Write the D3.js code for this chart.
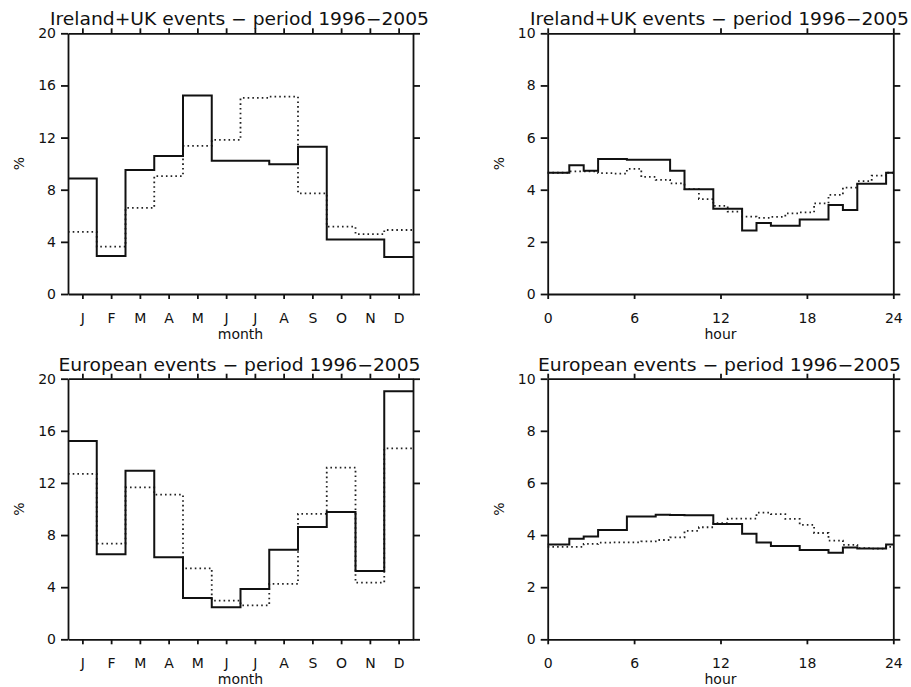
<!DOCTYPE html>
<html>
<head>
    <title>Ireland+UK and European events 1996-2005</title>
    <script src="https://d3js.org/d3.v7.min.js"></script>
    <style>
        body { margin: 0; background: #fff; }
        text { font-family: "DejaVu Sans", sans-serif; fill: #111; }
        .axis path, .axis line { stroke: #111; stroke-width: 1.8px; }
        .axis text { font-size: 14px; }
        .solid { fill: none; stroke: #111; stroke-width: 2px; }
        .dotted { fill: none; stroke: #222; stroke-width: 1.8px; stroke-dasharray: 1.6, 3.1; }
    </style>
</head>
<body>
<div id="svg_container"></div>
<script>
    const width = 911;
    const height = 687;

    // categories / ticks
    const months = ["J", "F", "M", "A", "M", "J", "J", "A", "S", "O", "N", "D"];
    const hours = [0, 1, 2, 3, 4, 5, 6, 7, 8, 9, 10, 11, 12, 13, 14, 15, 16, 17, 18, 19, 20, 21, 22, 23, 24];
    const monthTicksY = [0, 4, 8, 12, 16, 20];
    const hourTicksY = [0, 2, 4, 6, 8, 10];
    const hourTicksX = [0, 6, 12, 18, 24];

    const titleIreland = "Ireland+UK events \u2212 period 1996\u22122005";
    const titleEurope = "European events \u2212 period 1996\u22122005";

    // monthly distribution (%)
    const irelandMonthSolid = [8.87, 2.92, 9.51, 10.59, 15.22, 10.23, 10.23, 9.95, 11.30, 4.19, 4.19, 2.84];
    const irelandMonthDotted = [4.76, 3.63, 6.60, 9.05, 11.36, 11.82, 15.04, 15.14, 7.72, 5.17, 4.60, 4.91];
    const europeMonthSolid = [15.22, 6.52, 12.94, 6.29, 3.17, 2.46, 3.86, 6.88, 8.62, 9.77, 5.24, 19.03];
    const europeMonthDotted = [12.69, 7.34, 11.66, 11.10, 5.45, 2.97, 2.61, 4.25, 9.62, 13.17, 4.35, 14.65];

    // hourly distribution (%), hour 24 = hour 0
    const irelandHourSolid = [4.65, 4.65, 4.94, 4.73, 5.18, 5.18, 5.15, 5.15, 5.15, 4.73, 4.02, 4.02, 3.27, 3.27, 2.44, 2.72, 2.62, 2.62, 2.86, 2.86, 3.41, 3.22, 4.23, 4.23, 4.65];
    const irelandHourDotted = [4.65, 4.65, 4.70, 4.70, 4.64, 4.62, 4.80, 4.49, 4.38, 4.24, 4.02, 3.64, 3.38, 3.16, 2.97, 2.92, 2.96, 3.09, 3.13, 3.48, 3.80, 4.08, 4.33, 4.54, 4.65];
    const europeHourSolid = [3.64, 3.64, 3.86, 3.94, 4.19, 4.19, 4.71, 4.71, 4.78, 4.77, 4.76, 4.76, 4.42, 4.42, 4.05, 3.71, 3.58, 3.58, 3.43, 3.43, 3.32, 3.52, 3.48, 3.48, 3.64];
    const europeHourDotted = [3.55, 3.55, 3.55, 3.66, 3.71, 3.72, 3.72, 3.76, 3.81, 3.91, 4.16, 4.30, 4.46, 4.63, 4.63, 4.86, 4.80, 4.62, 4.39, 4.08, 3.79, 3.62, 3.50, 3.48, 3.55];

    const svg = d3.select("#svg_container")
        .append("svg")
        .attr("width", width)
        .attr("height", height);

    svg.append("rect").attr("width", width).attr("height", height).attr("fill", "#fff");

    const col_left = [68, 547.7];
    const col_right = [413, 893.3];
    const row_top = [33.3, 378.7];
    const row_bottom = [294, 639.3];

    function draw_panel(col, row, kind, title, titleLen, solid, dotted) {
        const x0 = col_left[col], x1 = col_right[col];
        const y0 = row_top[row], y1 = row_bottom[row];
        const g = svg.append("g");

        let x, y, xTicks, xFmt, yTicks, pts_s, pts_d, curve, xTitle;
        if (kind === "month") {
            x = d3.scaleLinear().domain([0, 12]).range([x0, x1]);
            y = d3.scaleLinear().domain([0, 20]).range([y1, y0]);
            xTicks = months.map((m, i) => i + 0.5);
            xFmt = (d, i) => months[i];
            yTicks = monthTicksY;
            // histogram edges: each month spans [i, i+1]
            pts_s = solid.map((v, i) => [i, v]).concat([[12, solid[11]]]);
            pts_d = dotted.map((v, i) => [i, v]).concat([[12, dotted[11]]]);
            curve = d3.curveStepAfter;
            xTitle = "month";
        } else {
            x = d3.scaleLinear().domain([0, 24]).range([x0, x1]);
            y = d3.scaleLinear().domain([0, 10]).range([y1, y0]);
            xTicks = hourTicksX;
            xFmt = d3.format("d");
            yTicks = hourTicksY;
            pts_s = hours.map((h, i) => [h, solid[i]]);
            pts_d = hours.map((h, i) => [h, dotted[i]]);
            curve = d3.curveStep;
            xTitle = "hour";
        }

        const line = d3.line().x(d => x(d[0])).y(d => y(d[1])).curve(curve);

        g.append("path").attr("class", "dotted").attr("d", line(pts_d));
        g.append("path").attr("class", "solid").attr("d", line(pts_s));

        // frame + outward ticks
        g.append("g").attr("class", "axis")
            .attr("transform", `translate(0,${y1})`)
            .call(d3.axisBottom(x).tickValues(xTicks).tickFormat(xFmt).tickSize(5).tickPadding(14).tickSizeOuter(0));
        g.append("g").attr("class", "axis")
            .attr("transform", `translate(0,${y0})`)
            .call(d3.axisTop(x).tickValues(xTicks).tickFormat("").tickSize(5).tickSizeOuter(0));
        g.append("g").attr("class", "axis")
            .attr("transform", `translate(${x0},0)`)
            .call(d3.axisLeft(y).tickValues(yTicks).tickFormat(d3.format("d")).tickSize(7).tickPadding(5).tickSizeOuter(0));
        g.append("g").attr("class", "axis")
            .attr("transform", `translate(${x1},0)`)
            .call(d3.axisRight(y).tickValues(yTicks).tickFormat("").tickSize(7).tickSizeOuter(0));

        g.selectAll(".axis text").attr("fill", "#111");

        // title
        g.append("text")
            .attr("x", (x0 + x1) / 2 - 1)
            .attr("y", y0 - 8)
            .attr("text-anchor", "middle")
            .attr("font-size", 17)
            .attr("textLength", titleLen)
            .attr("lengthAdjust", "spacingAndGlyphs")
            .text(title);

        // axis titles
        g.append("text")
            .attr("x", (x0 + x1) / 2)
            .attr("y", y1 + 45)
            .attr("text-anchor", "middle")
            .attr("font-size", 14)
            .text(xTitle);

        g.append("text")
            .attr("transform", `translate(${x0 - 44},${(y0 + y1) / 2}) rotate(-90)`)
            .attr("text-anchor", "middle")
            .attr("font-size", 14)
            .text("%");
    }

    draw_panel(0, 0, "month", titleIreland, 379, irelandMonthSolid, irelandMonthDotted);
    draw_panel(1, 0, "hour", titleIreland, 379, irelandHourSolid, irelandHourDotted);
    draw_panel(0, 1, "month", titleEurope, 362, europeMonthSolid, europeMonthDotted);
    draw_panel(1, 1, "hour", titleEurope, 363, europeHourSolid, europeHourDotted);
</script>
</body>
</html>
